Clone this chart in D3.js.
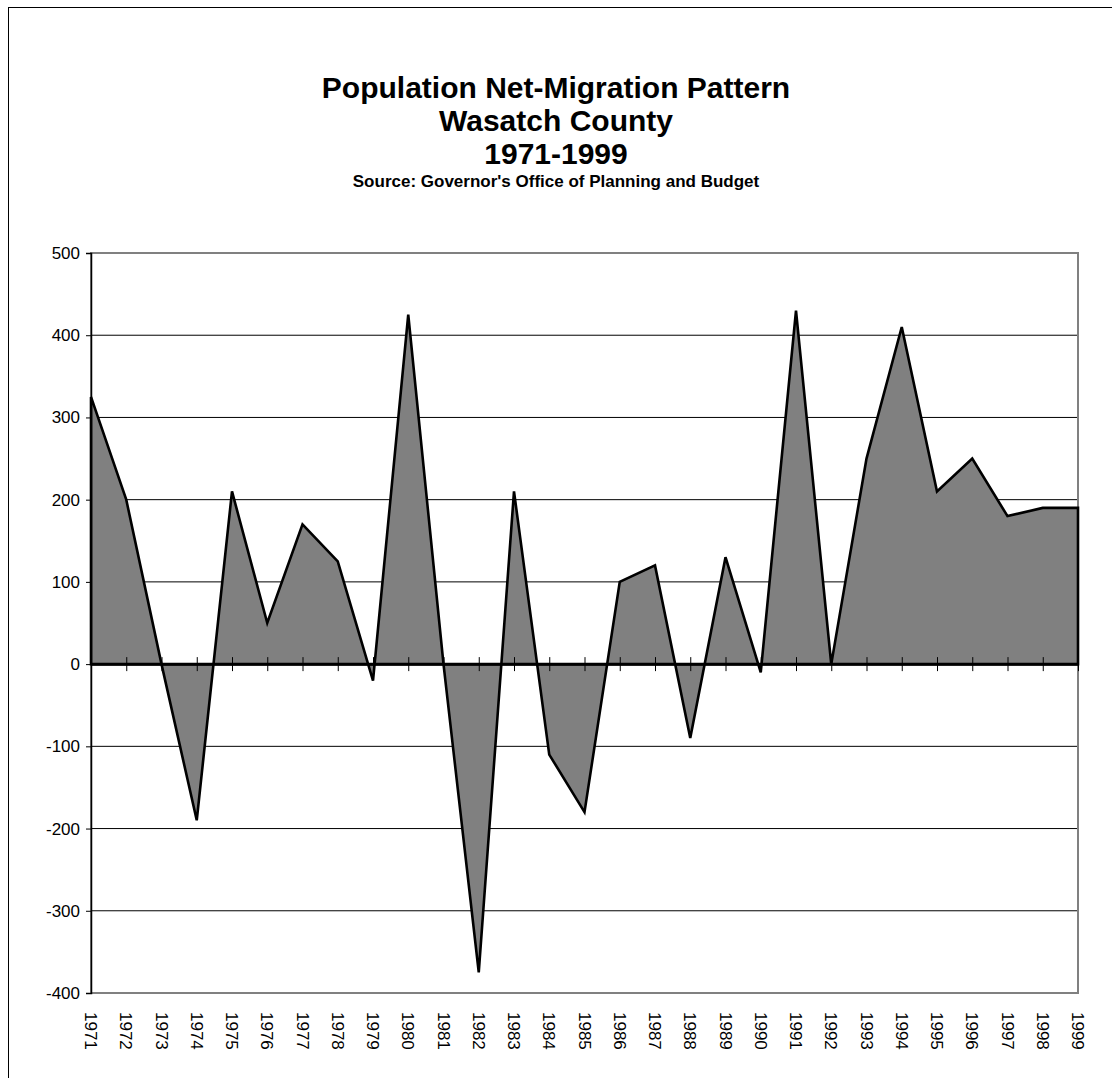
<!DOCTYPE html>
<html>
<head>
<meta charset="utf-8">
<script src="https://cdn.jsdelivr.net/npm/d3@7"></script>
<style>
  body { margin: 0; background: #fff; }
  svg { display: block; font-family: "Liberation Sans", Arial, sans-serif; }
</style>
</head>
<body>
<script>
var width = 1112,
    height = 1078;

// data
var years = [1971, 1972, 1973, 1974, 1975, 1976, 1977, 1978, 1979, 1980,
             1981, 1982, 1983, 1984, 1985, 1986, 1987, 1988, 1989, 1990,
             1991, 1992, 1993, 1994, 1995, 1996, 1997, 1998, 1999];
var netMigration = [325, 200, 0, -190, 210, 50, 170, 125, -20, 425,
                    0, -375, 210, -110, -180, 100, 120, -90, 130, -10,
                    430, 0, 250, 410, 210, 250, 180, 190, 190];
var yTicks = [-400, -300, -200, -100, 0, 100, 200, 300, 400, 500];
var titleLines = ["Population Net-Migration Pattern", "Wasatch County", "1971-1999"];
var sourceLine = "Source: Governor's Office of Planning and Budget";

var data = years.map(function(y, i) { return {year: y, value: netMigration[i]}; });

var margin = {left: 91, right: 1078, top: 253, bottom: 993};

var svg = d3.select("body").append("svg")
    .attr("width", width)
    .attr("height", height);

// chart area border
svg.append("rect")
    .attr("x", 8.5).attr("y", 7.5)
    .attr("width", width + 10).attr("height", height + 10)
    .attr("fill", "none").attr("stroke", "#000").attr("stroke-width", 1);

var x = d3.scalePoint()
    .domain(years)
    .range([margin.left, margin.right]);

var y = d3.scaleLinear()
    .domain([-400, 500])
    .range([margin.bottom, margin.top]);

// titles
svg.selectAll("text.title")
    .data(titleLines)
    .enter().append("text")
    .attr("class", "title")
    .attr("x", 556)
    .attr("y", function(d, i) { return 98 + i * 33; })
    .attr("text-anchor", "middle")
    .attr("font-size", 30)
    .attr("font-weight", "bold")
    .text(function(d) { return d; });

svg.append("text")
    .attr("x", 556).attr("y", 187)
    .attr("text-anchor", "middle")
    .attr("font-size", 17)
    .attr("font-weight", "bold")
    .text(sourceLine);

// horizontal gridlines
svg.append("g")
    .selectAll("line")
    .data(yTicks.filter(function(d) { return d > -400 && d < 500 && d !== 0; }))
    .enter().append("line")
    .attr("x1", margin.left).attr("x2", margin.right)
    .attr("y1", function(d) { return y(d); })
    .attr("y2", function(d) { return y(d); })
    .attr("stroke", "#000").attr("stroke-width", 1);

// plot area border (grey)
svg.append("rect")
    .attr("x", margin.left).attr("y", margin.top)
    .attr("width", margin.right - margin.left)
    .attr("height", margin.bottom - margin.top)
    .attr("fill", "none").attr("stroke", "#808080").attr("stroke-width", 2);

// area
var area = d3.area()
    .x(function(d) { return x(d.year); })
    .y0(y(0))
    .y1(function(d) { return y(d.value); });

svg.append("path")
    .datum(data)
    .attr("d", area)
    .attr("fill", "#808080")
    .attr("stroke", "#000")
    .attr("stroke-width", 2.6)
    .attr("stroke-linejoin", "miter");

// y axis
var yAxis = d3.axisLeft(y)
    .tickValues(yTicks)
    .tickSize(5)
    .tickPadding(6)
    .tickFormat(function(d) { return String(d); });

var gy = svg.append("g")
    .attr("transform", "translate(" + margin.left + ",0)")
    .call(yAxis);
gy.select(".domain").attr("stroke", "#000").attr("stroke-width", 1.5);
gy.selectAll(".tick line").attr("stroke", "#000");
gy.selectAll(".tick text")
    .attr("font-family", "Liberation Sans, Arial, sans-serif")
    .attr("font-size", 17)
    .attr("fill", "#000");

// category axis along zero, ticks crossing
var xAxis = d3.axisBottom(x)
    .tickSize(0)
    .tickFormat("");

var gx = svg.append("g")
    .attr("transform", "translate(0," + y(0) + ")")
    .call(xAxis);
gx.select(".domain").attr("stroke", "#000").attr("stroke-width", 2.5);
gx.selectAll(".tick").append("line")
    .attr("y1", -7).attr("y2", 7)
    .attr("stroke", "#000").attr("stroke-width", 1);

// year labels below the plot, rotated
svg.append("g")
    .selectAll("text")
    .data(years)
    .enter().append("text")
    .attr("transform", function(d) {
        return "translate(" + x(d) + "," + (margin.bottom + 19) + ") rotate(90)";
    })
    .attr("dy", "0.35em")
    .attr("font-size", 17)
    .text(function(d) { return d; });
</script>
</body>
</html>
